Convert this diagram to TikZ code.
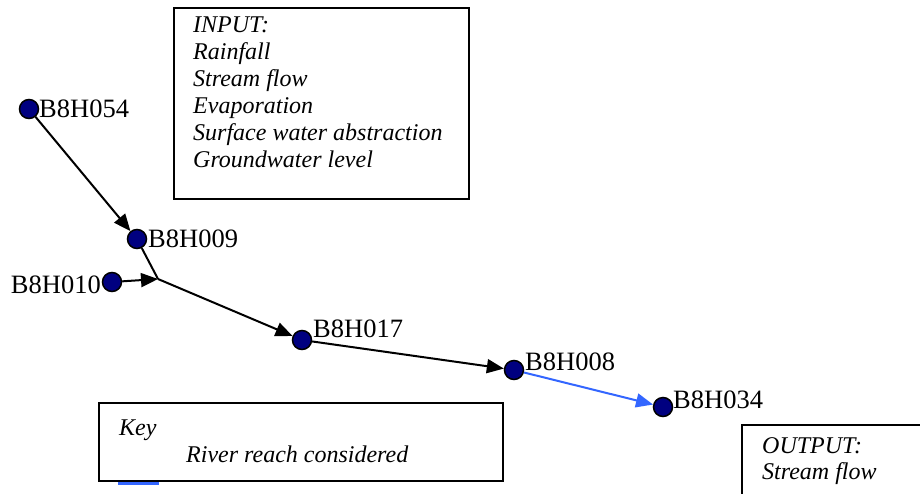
\documentclass[tikz,border=0pt]{standalone}
\usepackage{fontspec}
\setmainfont{Liberation Serif}
\newfontfamily\tms{Liberation Serif}
\usetikzlibrary{arrows.meta}
\definecolor{dotnavy}{HTML}{000080}
\definecolor{reach}{HTML}{3366FF}
\begin{document}
\begin{tikzpicture}[x=1pt,y=-1pt,
  gauge/.style={circle,draw=black,line width=1.5pt,fill=dotnavy,minimum size=19pt,inner sep=0pt},
  lbl/.style={inner sep=0pt,font=\tms\fontsize{26.5}{30}\selectfont},
  txt/.style={inner sep=0pt,anchor=base west,font=\tms\fontsize{24}{27}\selectfont\itshape},
  box/.style={draw=black,line width=1.8pt,inner sep=0pt,anchor=north west},
  flow/.style={line width=2pt,-{Triangle[length=17pt,width=14pt]}},
  plain/.style={line width=2pt}]
\useasboundingbox (0,0) rectangle (920,493);
\fill[white] (0,0) rectangle (920,493);

% INPUT box
\node[box,minimum width=295pt,minimum height=191pt] (inbox) at (173,7) {};
\node[txt] (in1) at (193,32) {INPUT:};
\node[txt] (in2) at (193,59) {Rainfall};
\node[txt] (in3) at (193,86) {Stream flow};
\node[txt] (in4) at (193,113) {Evaporation};
\node[txt] (in5) at (193,140) {Surface water abstraction};
\node[txt] (in6) at (193,167) {Groundwater level};

% gauges
\node[gauge] (g054) at (29,109) {};
\node[gauge] (g009) at (137,239) {};
\node[gauge] (g010) at (112,282) {};
\node[gauge] (g017) at (302,340) {};
\node[gauge] (g008) at (514,370) {};
\node[gauge] (g034) at (663,407) {};
\coordinate (j) at (158,279);

\node[lbl,anchor=base west] (l054) at (39,117) {B8H054};
\node[lbl,anchor=base west] (l009) at (148,247) {B8H009};
\node[lbl,anchor=base east] (l010) at (101,293) {B8H010};
\node[lbl,anchor=base west] (l017) at (313,337) {B8H017};
\node[lbl,anchor=base west] (l008) at (525,370) {B8H008};
\node[lbl,anchor=base west] (l034) at (673,408) {B8H034};

% connectors
\draw[flow] (g054) -- (g009);
\draw[plain] (g009) -- (j);
\draw[flow] (g010) -- (j);
\draw[flow] (j) -- (g017);
\draw[flow] (g017) -- (g008);
\draw[flow,reach] (g008) -- (g034);

% Key box
\node[box,minimum width=404pt,minimum height=78pt] (keybox) at (98,402) {};
\node[txt] (key) at (119,435) {Key};
\node[txt] (river) at (186,462) {River reach considered};
\coordinate (k1) at (118,483);
\coordinate (k2) at (159,483);
\draw[reach,line width=3pt] (k1) -- (k2);

% OUTPUT box
\coordinate (o1) at (930,425);
\coordinate (o2) at (742,425);
\coordinate (o3) at (742,500);
\draw[line width=1.8pt] (o1) -- (o2) -- (o3);
\node[txt] (out1) at (762,453) {OUTPUT:};
\node[txt] (out2) at (762,479) {Stream flow};
\end{tikzpicture}
\end{document}
